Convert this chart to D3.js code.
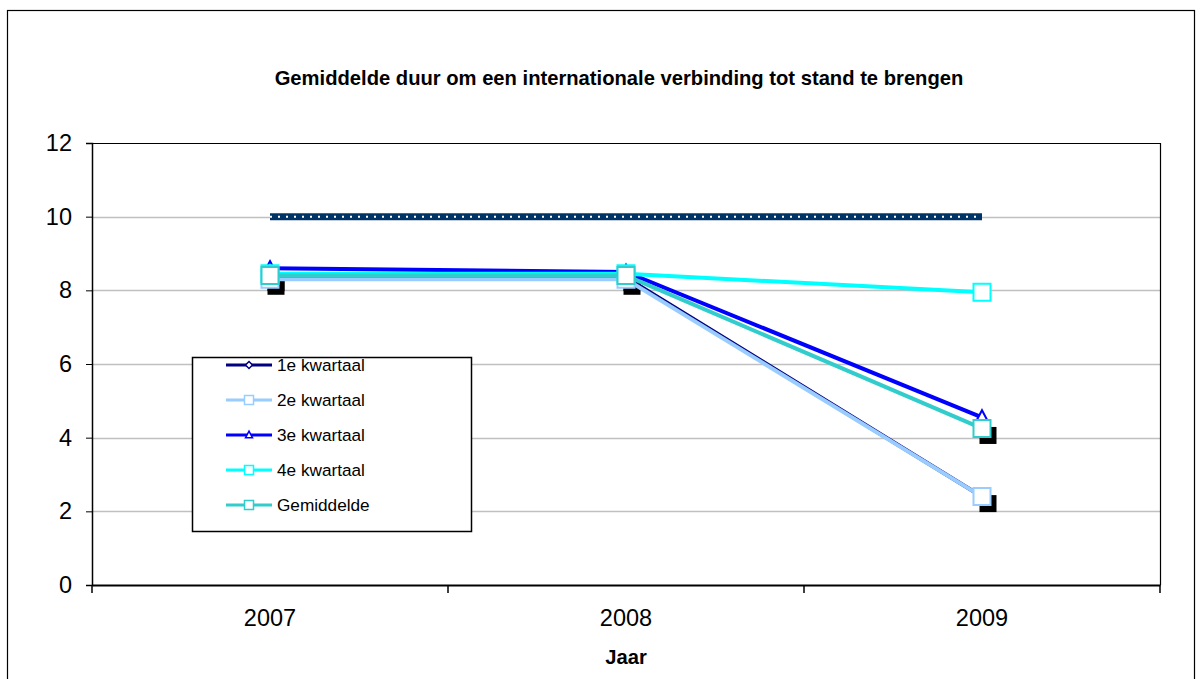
<!DOCTYPE html>
<html>
<head>
<meta charset="utf-8">
<script src="https://cdn.jsdelivr.net/npm/d3@7"></script>
<style>
  html, body { margin: 0; padding: 0; background: #fff; }
  svg { display: block; font-family: "Liberation Sans", Arial, sans-serif; }
</style>
</head>
<body>
<svg id="chart" width="1202" height="679"></svg>
<script>
// Jaren en meetwaarden (seconden) per kwartaal
const years = ["2007", "2008", "2009"];
const kwartaal1 = [8.35, 8.35, 2.4];
const kwartaal2 = [8.3, 8.3, 2.4];
const kwartaal3 = [8.6, 8.5, 4.55];
const kwartaal4 = [8.45, 8.45, 7.95];
const gemiddelde = [8.4, 8.4, 4.25];
const norm = [10, 10, 10];
const yTicks = [0, 2, 4, 6, 8, 10, 12];

const series = [
  { name: "1e kwartaal", values: kwartaal1, color: "#000080", marker: "diamond", shadow: false },
  { name: "2e kwartaal", values: kwartaal2, color: "#99ccff", marker: "square", shadow: true },
  { name: "3e kwartaal", values: kwartaal3, color: "#0000ff", marker: "triangle", shadow: false },
  { name: "4e kwartaal", values: kwartaal4, color: "#00ffff", marker: "square", shadow: false },
  { name: "Gemiddelde", values: gemiddelde, color: "#33cccc", marker: "square", shadow: true }
];

const svg = d3.select("#chart");
const plot = { left: 92, right: 1160, top: 143, bottom: 585 };
const font = "Liberation Sans, Arial, sans-serif";

// Buitenrand van de grafiek
svg.append("rect")
  .attr("x", 7.5).attr("y", 10.5)
  .attr("width", 1187).attr("height", 700)
  .attr("fill", "#fff").attr("stroke", "#000").attr("stroke-width", 1.2);

svg.append("text")
  .attr("x", 619).attr("y", 85)
  .attr("text-anchor", "middle")
  .attr("font-size", 20.2).attr("font-weight", "bold")
  .text("Gemiddelde duur om een internationale verbinding tot stand te brengen");

const x = d3.scaleBand().domain(years).range([plot.left, plot.right]);
const y = d3.scaleLinear().domain([0, 12]).range([plot.bottom, plot.top]);
const cx = d => x(d) + x.bandwidth() / 2;

// Horizontale rasterlijnen
svg.append("g")
  .selectAll("line")
  .data(yTicks.filter(t => t > 0 && t < 12))
  .join("line")
  .attr("x1", plot.left).attr("x2", plot.right)
  .attr("y1", d => Math.round(y(d)) + 0.5).attr("y2", d => Math.round(y(d)) + 0.5)
  .attr("stroke", "#c0c0c0").attr("stroke-width", 1.5);

// Kader van het tekengebied (boven en rechts)
svg.append("path")
  .attr("d", `M${plot.left},${plot.top + 0.5}H${plot.right + 0.5}V${plot.bottom}`)
  .attr("fill", "none").attr("stroke", "#000").attr("stroke-width", 1.2);

// Y-as
const yAxis = svg.append("g")
  .attr("transform", `translate(${plot.left},0)`)
  .call(d3.axisLeft(y).tickValues(yTicks).tickSize(6).tickPadding(14));
yAxis.select(".domain").attr("stroke-width", 1.5);
yAxis.selectAll("text").attr("font-size", 23.5).attr("fill", "#000")
  .attr("font-family", font);

// X-as met streepjes op de categoriegrenzen
const xAxis = svg.append("g")
  .attr("transform", `translate(0,${plot.bottom})`)
  .call(d3.axisBottom(x).tickSize(0).tickPadding(24));
xAxis.select(".domain").attr("stroke-width", 2);
xAxis.selectAll("text").attr("font-size", 23.5).attr("fill", "#000")
  .attr("font-family", font);
const bounds = years.map(d => x(d)).concat([x(years[years.length - 1]) + x.bandwidth()]);
xAxis.selectAll("line.bound")
  .data(bounds)
  .join("line")
  .attr("class", "bound")
  .attr("x1", d => d).attr("x2", d => d)
  .attr("y1", 0).attr("y2", 8)
  .attr("stroke", "#000").attr("stroke-width", 1.5);

svg.append("text")
  .attr("x", 626).attr("y", 664)
  .attr("text-anchor", "middle")
  .attr("font-size", 20.2).attr("font-weight", "bold")
  .text("Jaar");

const line = d3.line().x((d, i) => cx(years[i])).y(d => y(d));

// Normlijn op 10 seconden (gestippeld)
svg.append("path").datum(norm)
  .attr("d", line).attr("fill", "none")
  .attr("stroke", "#003366").attr("stroke-width", 7);
svg.append("path").datum(norm)
  .attr("d", line).attr("fill", "none")
  .attr("stroke", "#ffffff").attr("stroke-width", 2)
  .attr("stroke-dasharray", "2,6");

function markerPath(type, size) {
  const h = size / 2;
  if (type === "square") return `M${-h},${-h}H${h}V${h}H${-h}Z`;
  if (type === "diamond") return `M0,${-h}L${h},0L0,${h}L${-h},0Z`;
  return `M0,${-h * 1.1}L${h},${h * 0.8}H${-h}Z`;
}
const markerSize = { square: 17, diamond: 8, triangle: 13 };

// Schaduwen van de vierkante markers
series.filter(s => s.shadow).forEach(s => {
  svg.append("g").selectAll("path")
    .data(s.values)
    .join("path")
    .attr("transform", (d, i) => `translate(${cx(years[i]) + 6},${y(d) + 7})`)
    .attr("d", markerPath("square", 17))
    .attr("fill", "#000");
});

series.forEach(s => {
  svg.append("path").datum(s.values)
    .attr("d", line).attr("fill", "none")
    .attr("stroke", s.color).attr("stroke-width", 4);
  svg.append("g").selectAll("path")
    .data(s.values)
    .join("path")
    .attr("transform", (d, i) => `translate(${cx(years[i])},${y(d)})`)
    .attr("d", markerPath(s.marker, markerSize[s.marker]))
    .attr("fill", "#fff").attr("stroke", s.color).attr("stroke-width", 2);
});

// Legenda
const legend = svg.append("g");
legend.append("rect")
  .attr("x", 192.5).attr("y", 357.5).attr("width", 279).attr("height", 174)
  .attr("fill", "#fff").attr("stroke", "#000").attr("stroke-width", 1.5);
const items = legend.selectAll("g.item")
  .data(series)
  .join("g")
  .attr("class", "item")
  .attr("transform", (d, i) => `translate(0,${365 + i * 35})`);
items.append("line")
  .attr("x1", 226).attr("x2", 272).attr("y1", 0).attr("y2", 0)
  .attr("stroke", d => d.color).attr("stroke-width", 3);
items.append("path")
  .attr("transform", "translate(249,0)")
  .attr("d", d => markerPath(d.marker, d.marker === "square" ? 9 : 7))
  .attr("fill", "#fff").attr("stroke", d => d.color).attr("stroke-width", 1.5);
items.append("text")
  .attr("x", 277).attr("y", 0).attr("dy", "0.35em")
  .attr("font-size", 17.2).attr("font-family", font)
  .text(d => d.name);
</script>
</body>
</html>
